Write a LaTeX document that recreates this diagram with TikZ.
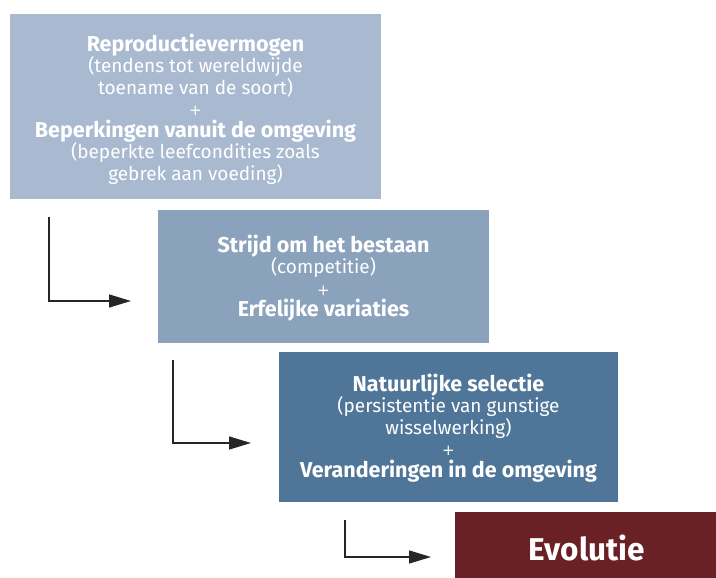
\documentclass[tikz,border=0pt]{standalone}
\usepackage{fontspec}
\setmainfont{Fira Sans}
\newfontfamily\plusfont{DejaVu Sans}
\usetikzlibrary{arrows.meta}
\definecolor{boxA}{HTML}{A9BAD0}
\definecolor{boxB}{HTML}{8AA2BC}
\definecolor{boxC}{HTML}{4F7699}
\definecolor{boxD}{HTML}{6A2125}
\newcommand{\ttl}[1]{\textbf{\fontsize{21.5}{21.5}\selectfont #1}}
\newcommand{\plussign}{{\plusfont\fontsize{15}{19}\selectfont +}}
\begin{document}
\begin{tikzpicture}[x=1pt,y=-1pt,
  panel/.style={draw=none,inner sep=0pt,text=white,align=center,font=\fontsize{19}{21.5}\selectfont},
  flow/.style={line width=1.4pt,draw=black!85,-{Triangle[length=22pt,width=13pt]}}]
\useasboundingbox (0,0) rectangle (716,578);
\fill[boxA] (10,14) rectangle (381,199);
\fill[boxB] (158,210) rectangle (489,343);
\fill[boxC] (279,352) rectangle (618,502);
\fill[boxD] (455,512) rectangle (716,578);
\node[panel] (a) at (195.5,109) {\ttl{Reproductievermogen}\\(tendens tot wereldwijde\\toename van de soort)\\\plussign\\\ttl{Beperkingen vanuit de omgeving}\\(beperkte leefcondities zoals\\gebrek aan voeding)};
\node[panel] (b) at (323.5,278) {\ttl{Strijd om het bestaan}\\(competitie)\\\plussign\\\ttl{Erfelijke variaties}};
\node[panel] (c) at (448.5,428) {\ttl{Natuurlijke selectie}\\(persistentie van gunstige\\wisselwerking)\\\plussign\\\ttl{Veranderingen in de omgeving}};
\node[panel,font=\bfseries\fontsize{31.5}{34}\selectfont] (d) at (587,548) {Evolutie};
\coordinate (s1) at (49,217); \coordinate (k1) at (49,301); \coordinate (e1) at (131,301);
\coordinate (s2) at (173,360); \coordinate (k2) at (173,443); \coordinate (e2) at (251,443);
\coordinate (s3) at (345,520); \coordinate (k3) at (345,557); \coordinate (e3) at (431,557);
\draw[flow] (s1) -- (k1) -- (e1);
\draw[flow] (s2) -- (k2) -- (e2);
\draw[flow] (s3) -- (k3) -- (e3);
\end{tikzpicture}
\end{document}
